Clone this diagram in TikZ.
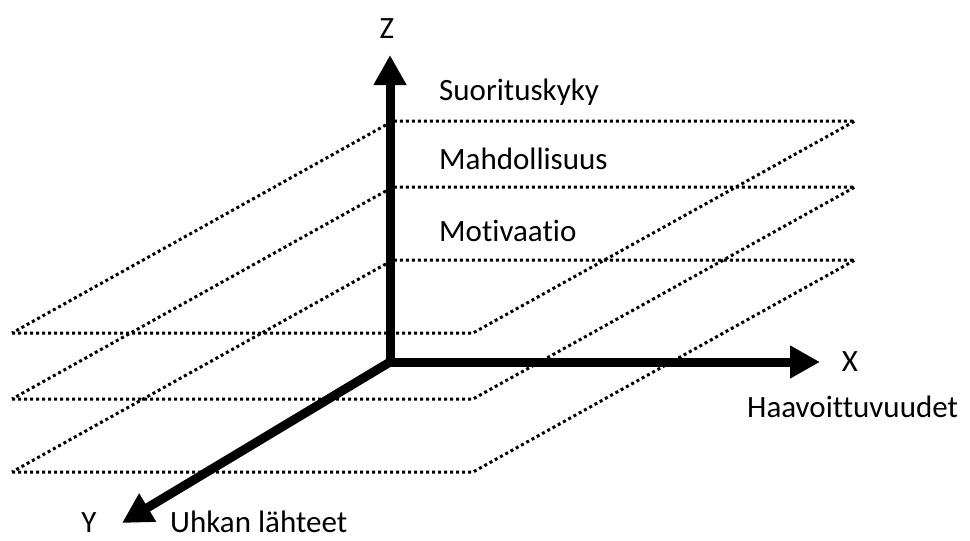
\documentclass[tikz,border=0pt]{standalone}
\usepackage{fontspec}
\setmainfont{Carlito}[Ligatures=NoCommon]
\usetikzlibrary{arrows.meta}
\begin{document}
\begin{tikzpicture}[x=1pt,y=-1pt,
  axis/.style={line width=9pt, -{Triangle[length=30pt,width=31pt]}},
  plane/.style={line width=3pt, dash pattern=on 3pt off 3pt},
  lbl/.style={font=\fontsize{31}{37}\selectfont, inner sep=0pt, text=black}]
\useasboundingbox[fill=white] (0,0) rectangle (970,541);
% dotted planes
\foreach \t in {121,187,260} {
  \draw[plane] (12,\t+212) -- (473,\t+212) -- (855,\t) -- (393,\t) -- cycle;
}
% axes
\coordinate (O) at (390,362);
\coordinate (Zt) at (390,55);
\coordinate (Xt) at (820,362);
\coordinate (Yt) at (122,523);
\draw[axis] ([yshift=-4.5pt]O) -- (Zt);
\draw[axis] ([xshift=-4.5pt]O) -- (Xt);
\draw[axis] (O) -- (Yt);
% labels
\node[lbl, anchor=base] (zl) at (387,38) {Z};
\node[lbl, anchor=base] (xl) at (850,371) {X};
\node[lbl, anchor=base west] (xn) at (747,417) {Haavoittuvuudet};
\node[lbl, anchor=base] (yl) at (89,532) {Y};
\node[lbl, anchor=base west] (yn) at (170,532) {Uhkan lähteet};
\node[lbl, anchor=base west] (p1) at (439,100) {Suorituskyky};
\node[lbl, anchor=base west] (p2) at (439,169) {Mahdollisuus};
\node[lbl, anchor=base west] (p3) at (439,241) {Motivaatio};
\end{tikzpicture}
\end{document}
